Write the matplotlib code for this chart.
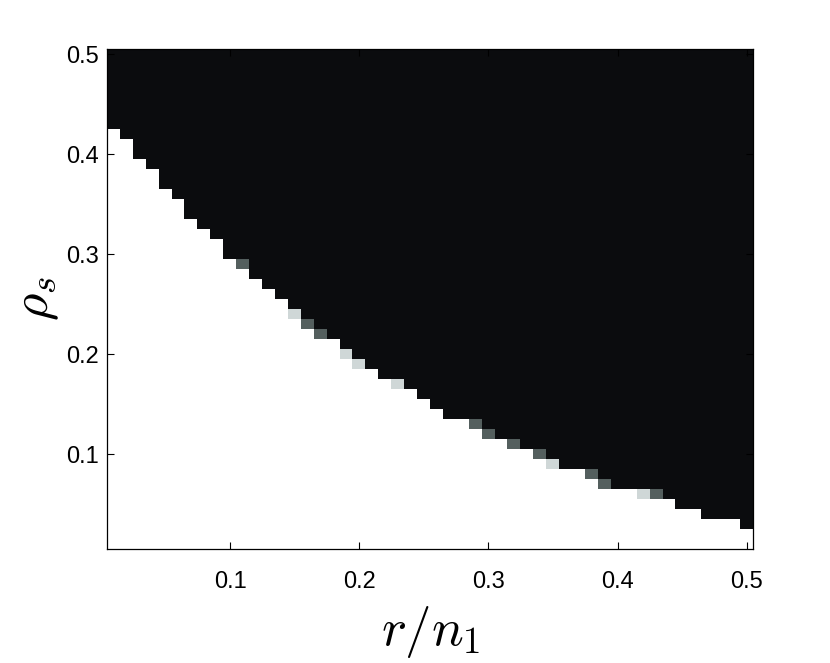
import numpy as np
import matplotlib
matplotlib.use("Agg")
import matplotlib.pyplot as plt
from matplotlib.colors import LinearSegmentedColormap

plt.rcParams["font.family"] = ["Liberation Sans", "DejaVu Sans"]
plt.rcParams["mathtext.fontset"] = "cm"

# grid of r/n1 and rho_s values (cell centres)
r_over_n1 = np.round(np.arange(1, 51) * 0.01, 2)
rho_s = np.round(np.arange(1, 51) * 0.01, 2)

# highest rho_s that is still fully recovered (white) in each column
white_top = [
    0.42, 0.41, 0.39, 0.38, 0.36, 0.35, 0.33, 0.32, 0.31, 0.29,
    0.28, 0.27, 0.26, 0.25, 0.23, 0.22, 0.21, 0.21, 0.19, 0.18,
    0.18, 0.17, 0.16, 0.16, 0.15, 0.14, 0.13, 0.13, 0.12, 0.11,
    0.11, 0.10, 0.10, 0.09, 0.08, 0.08, 0.08, 0.07, 0.06, 0.06,
    0.06, 0.05, 0.05, 0.05, 0.04, 0.04, 0.03, 0.03, 0.03, 0.02,
]

# partial-success cells on the transition
gray_r = [0.11, 0.15, 0.16, 0.17, 0.19, 0.20, 0.23, 0.29, 0.30, 0.32,
          0.34, 0.35, 0.38, 0.39, 0.42, 0.43]
gray_rho = [0.29, 0.24, 0.23, 0.22, 0.20, 0.19, 0.17, 0.13, 0.12, 0.11,
            0.10, 0.09, 0.08, 0.07, 0.06, 0.06]
gray_val = [0.33, 0.82, 0.33, 0.33, 0.82, 0.82, 0.82, 0.33, 0.33, 0.33,
            0.33, 0.82, 0.33, 0.33, 0.82, 0.33]

grid = np.zeros((len(rho_s), len(r_over_n1)))
for j, top in enumerate(white_top):
    grid[rho_s <= top + 1e-9, j] = 1.0
for x, y, v in zip(gray_r, gray_rho, gray_val):
    grid[np.argmin(np.abs(rho_s - y)), np.argmin(np.abs(r_over_n1 - x))] = v

cmap = LinearSegmentedColormap.from_list(
    "phase",
    [(0.0, "#0b0c0e"), (0.33, "#55605f"), (0.82, "#d0d8d8"), (1.0, "#ffffff")],
)

fig = plt.figure(figsize=(8.3, 6.63), dpi=100)
ax = fig.add_axes([0.1293, 0.1719, 0.7783, 0.7541])
ax.imshow(
    grid,
    origin="lower",
    extent=[0.005, 0.505, 0.005, 0.505],
    aspect="auto",
    cmap=cmap,
    vmin=0,
    vmax=1,
    interpolation="nearest",
)
ax.set_xlim(0.005, 0.505)
ax.set_ylim(0.005, 0.505)
ax.set_xticks([0.1, 0.2, 0.3, 0.4, 0.5])
ax.set_yticks([0.1, 0.2, 0.3, 0.4, 0.5])
ax.tick_params(direction="in", length=5, width=0.8, top=True, right=True,
               labelsize=17)
ax.tick_params(axis="x", pad=16)
ax.tick_params(axis="y", pad=6)
for s in ax.spines.values():
    s.set_linewidth(0.9)

ax.set_xlabel(r"$r/n_1$", fontsize=38, labelpad=8)
ax.set_ylabel(r"$\rho_s$", fontsize=38, labelpad=4)

fig.savefig("out.png", dpi=100)
